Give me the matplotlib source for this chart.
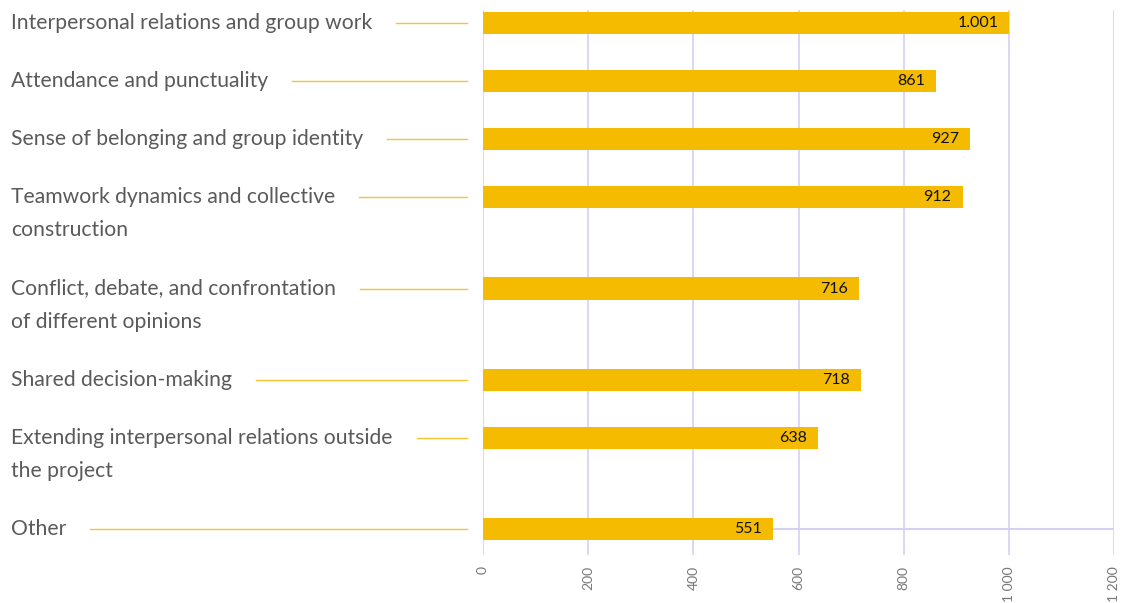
import matplotlib
matplotlib.use("Agg")
import matplotlib.pyplot as plt
import numpy as np

# Survey categories (label lines) and counts
categories = [
    ["Interpersonal relations and group work"],
    ["Attendance and punctuality"],
    ["Sense of belonging and group identity"],
    ["Teamwork dynamics and collective", "construction"],
    ["Conflict, debate, and confrontation", "of different opinions"],
    ["Shared decision-making"],
    ["Extending interpersonal relations outside", "the project"],
    ["Other"],
]
values = [1001, 861, 927, 912, 716, 718, 638, 551]
value_labels = ["1.001", "861", "927", "912", "716", "718", "638", "551"]
x_ticks = [0, 200, 400, 600, 800, 1000, 1200]
x_tick_labels = ["0", "200", "400", "600", "800", "1 000", "1 200"]

BAR_COLOR = "#f5bb00"
LEADER_COLOR = "#f5c232"
GRID_COLOR = "#d5d0f6"
TEXT_COLOR = "#5a5a5a"
FONT = ["Lato", "DejaVu Sans"]

# Row layout: vertical units roughly equal to pixels; each row takes a
# base gap plus one line-height per label line.
LINE_H = 33
BASE_GAP = 25
positions = [0.0]
for lines in categories[:-1]:
    positions.append(positions[-1] + BASE_GAP + LINE_H * len(lines))
positions = np.array(positions)

fig = plt.figure(figsize=(11.28, 6.03), dpi=100)
ax = fig.add_axes([483 / 1128, 1 - 555 / 603, (1114 - 483) / 1128, (555 - 10) / 603])

ax.set_xlim(0, 1200)
ax.set_ylim(positions[-1] + 26, positions[0] - 13)

for s in ax.spines.values():
    s.set_visible(False)

# vertical grid lines
for t in x_ticks:
    ax.axvline(t, color=GRID_COLOR, lw=1.2, zorder=0)
# baseline across the last row
ax.plot([0, 1200], [positions[-1], positions[-1]], color=GRID_COLOR, lw=1.5, zorder=0)

ax.barh(positions, values, height=22, color=BAR_COLOR, zorder=2)

for y, v, lab in zip(positions, values, value_labels):
    ax.annotate(lab, xy=(v, y), xytext=(-8, 0), textcoords="offset points",
                ha="right", va="center", fontsize=11.5, color="#111111",
                family=FONT, zorder=3)

ax.set_xticks(x_ticks)
ax.set_xticklabels(x_tick_labels, rotation=90, fontsize=10, color="#777777",
                   family=FONT, va="top")
ax.tick_params(axis="x", length=0, pad=8)
ax.set_yticks([])

# category labels on the left with leader lines
fig.canvas.draw()
renderer = fig.canvas.get_renderer()
to_fig = fig.transFigure.inverted()
for y, lines in zip(positions, categories):
    first = None
    for k, line in enumerate(lines):
        _, ypix = ax.transData.transform((0, y + k * LINE_H))
        yfig = to_fig.transform((0, ypix))[1]
        t = fig.text(11 / 1128, yfig, line, ha="left", va="center",
                     fontsize=15.2, color=TEXT_COLOR, family=FONT)
        if k == 0:
            first = t
    bb = first.get_window_extent(renderer)
    _, ypix = ax.transData.transform((0, y))
    y0 = to_fig.transform((0, ypix))[1]
    x0 = (bb.x1 + 24) / 1128
    x1 = 467 / 1128
    fig.add_artist(plt.Line2D([x0, x1], [y0, y0], transform=fig.transFigure,
                              color=LEADER_COLOR, lw=1.0))

fig.savefig("out.png", dpi=100)
